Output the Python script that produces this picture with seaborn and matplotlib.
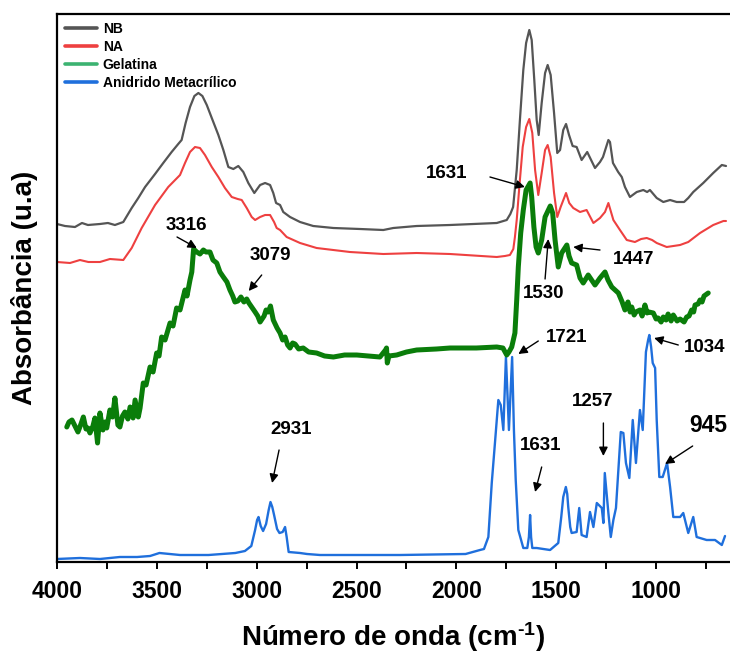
import matplotlib
matplotlib.use("Agg")
import matplotlib.pyplot as plt
from matplotlib.lines import Line2D
from matplotlib.ticker import MultipleLocator
import seaborn as sns

# ---- FTIR spectra (wavenumber in cm-1, absorbance in arbitrary units, stacked) ----
nb_wn = [4000, 3960, 3910, 3875, 3845, 3785, 3745, 3710, 3668, 3626, 3593, 3559, 3509, 3468,
         3426, 3393, 3376, 3356, 3334, 3312, 3292, 3272, 3250, 3225, 3192, 3167, 3142, 3117,
         3092, 3067, 3042, 3012, 2983, 2958, 2933, 2917, 2903, 2883, 2867, 2833, 2783, 2717,
         2616, 2483, 2366, 2316, 2199, 2032, 1798, 1748, 1730, 1716, 1698, 1682, 1665, 1651,
         1635, 1623, 1610, 1598, 1588, 1573, 1556, 1543, 1528, 1511, 1495, 1481, 1465, 1451,
         1436, 1418, 1398, 1373, 1345, 1306, 1281, 1266, 1239, 1231, 1216, 1190, 1172, 1156,
         1131, 1097, 1064, 1045, 1031, 997, 964, 930, 897, 860, 839, 814, 764, 714, 671, 650]
nb_abs = [3.38, 3.36, 3.35, 3.39, 3.37, 3.38, 3.39, 3.37, 3.40, 3.54, 3.64, 3.75, 3.88, 3.99,
          4.10, 4.18, 4.22, 4.39, 4.55, 4.66, 4.69, 4.66, 4.57, 4.44, 4.27, 4.12, 3.95, 3.93,
          3.96, 3.90, 3.79, 3.69, 3.77, 3.79, 3.77, 3.69, 3.59, 3.57, 3.50, 3.45, 3.40, 3.36,
          3.34, 3.33, 3.32, 3.34, 3.36, 3.37, 3.39, 3.42, 3.48, 3.55, 3.92, 4.42, 4.92, 5.19,
          5.32, 5.22, 4.82, 4.42, 4.27, 4.59, 4.89, 4.97, 4.87, 4.49, 4.09, 4.12, 4.32, 4.38,
          4.27, 4.16, 4.15, 4.02, 4.10, 3.94, 4.00, 4.05, 4.22, 4.20, 3.99, 3.90, 3.85, 3.75,
          3.65, 3.70, 3.72, 3.70, 3.72, 3.64, 3.60, 3.62, 3.60, 3.60, 3.64, 3.70, 3.79, 3.89,
          3.97, 3.96]

na_wn = [4000, 3935, 3885, 3843, 3785, 3735, 3668, 3626, 3576, 3509, 3443, 3384, 3359, 3334,
         3309, 3284, 3259, 3225, 3192, 3159, 3125, 3095, 3075, 3050, 3025, 3008, 2983, 2958,
         2933, 2913, 2900, 2883, 2850, 2783, 2700, 2533, 2366, 2199, 2032, 1798, 1757, 1732,
         1715, 1707, 1698, 1685, 1668, 1651, 1635, 1620, 1606, 1590, 1573, 1556, 1543, 1528,
         1511, 1495, 1478, 1451, 1435, 1415, 1381, 1348, 1314, 1281, 1256, 1239, 1214, 1181,
         1147, 1106, 1075, 1047, 1020, 997, 947, 880, 839, 780, 714, 663, 650]
na_abs = [3.00, 2.99, 3.02, 3.00, 3.00, 3.03, 3.02, 3.14, 3.34, 3.57, 3.75, 3.87, 3.99, 4.10,
          4.15, 4.14, 4.07, 3.95, 3.85, 3.74, 3.65, 3.63, 3.62, 3.54, 3.45, 3.42, 3.45, 3.47,
          3.47, 3.40, 3.34, 3.32, 3.25, 3.19, 3.14, 3.10, 3.08, 3.09, 3.08, 3.05, 3.06, 3.07,
          3.13, 3.25, 3.42, 3.75, 4.15, 4.35, 4.43, 4.29, 3.92, 3.67, 3.89, 4.12, 4.17, 4.05,
          3.69, 3.45, 3.55, 3.69, 3.59, 3.54, 3.50, 3.52, 3.39, 3.44, 3.50, 3.59, 3.42, 3.32,
          3.22, 3.20, 3.23, 3.24, 3.22, 3.19, 3.15, 3.17, 3.20, 3.29, 3.37, 3.41, 3.41]

gel_wn = [3951, 3940, 3925, 3910, 3895, 3880, 3868, 3855, 3845, 3835, 3820, 3810, 3797, 3785,
          3770, 3760, 3751, 3735, 3722, 3710, 3695, 3685, 3672, 3660, 3645, 3634, 3619, 3609,
          3593, 3584, 3568, 3554, 3534, 3519, 3501, 3489, 3476, 3459, 3434, 3419, 3401, 3384,
          3359, 3349, 3334, 3325, 3316, 3300, 3284, 3267, 3254, 3234, 3219, 3200, 3184, 3167,
          3149, 3134, 3120, 3109, 3094, 3079, 3064, 3050, 3039, 3025, 3008, 2995, 2983, 2963,
          2953, 2942, 2931, 2917, 2898, 2883, 2870, 2858, 2845, 2833, 2820, 2808, 2790, 2767,
          2740, 2700, 2660, 2616, 2560, 2499, 2440, 2383, 2355, 2350, 2346, 2338, 2299, 2250,
          2199, 2100, 2032, 1900, 1798, 1767, 1748, 1737, 1723, 1707, 1698, 1690, 1678, 1665,
          1651, 1631, 1623, 1612, 1601, 1590, 1573, 1556, 1530, 1518, 1506, 1490, 1473, 1447,
          1436, 1423, 1398, 1381, 1365, 1340, 1306, 1281, 1256, 1241, 1222, 1189, 1170, 1156,
          1141, 1130, 1122, 1110, 1101, 1081, 1070, 1056, 1045, 1036, 1014, 1000, 990, 975,
          964, 950, 940, 925, 914, 895, 880, 860, 847, 835, 822, 812, 805, 790, 780, 770,
          760, 739]
gel_abs = [1.35, 1.40, 1.42, 1.36, 1.30, 1.38, 1.45, 1.33, 1.34, 1.29, 1.36, 1.44, 1.19, 1.49,
           1.32, 1.40, 1.34, 1.52, 1.45, 1.64, 1.37, 1.35, 1.46, 1.50, 1.43, 1.55, 1.44, 1.62,
           1.45, 1.54, 1.79, 1.77, 1.95, 1.90, 2.09, 2.06, 2.25, 2.22, 2.39, 2.36, 2.54, 2.52,
           2.72, 2.66, 2.82, 2.90, 3.13, 3.10, 3.08, 3.12, 3.10, 3.10, 3.02, 2.99, 2.90, 2.85,
           2.80, 2.72, 2.66, 2.60, 2.61, 2.65, 2.60, 2.63, 2.59, 2.55, 2.50, 2.46, 2.40, 2.46,
           2.52, 2.50, 2.56, 2.42, 2.34, 2.29, 2.22, 2.25, 2.17, 2.14, 2.19, 2.18, 2.13, 2.14,
           2.10, 2.09, 2.06, 2.05, 2.07, 2.07, 2.06, 2.05, 2.12, 2.14, 1.99, 2.06, 2.07, 2.10,
           2.12, 2.13, 2.14, 2.14, 2.15, 2.14, 2.07, 2.10, 2.15, 2.29, 2.62, 2.95, 3.29, 3.52,
           3.72, 3.79, 3.65, 3.35, 3.15, 3.09, 3.22, 3.45, 3.56, 3.49, 3.22, 2.95, 3.09, 3.17,
           3.06, 2.99, 2.97, 2.84, 2.79, 2.87, 2.77, 2.84, 2.90, 2.82, 2.75, 2.69, 2.60, 2.52,
           2.60, 2.50, 2.55, 2.47, 2.50, 2.52, 2.46, 2.57, 2.49, 2.50, 2.49, 2.43, 2.44, 2.40,
           2.45, 2.42, 2.48, 2.41, 2.47, 2.41, 2.43, 2.40, 2.45, 2.46, 2.52, 2.50, 2.57, 2.58,
           2.62, 2.60, 2.66, 2.69]

ma_wn = [4000, 3885, 3785, 3685, 3599, 3534, 3487, 3384, 3241, 3107, 3059, 3027, 3008, 2998,
         2991, 2980, 2968, 2953, 2940, 2931, 2922, 2913, 2898, 2886, 2870, 2858, 2850, 2840,
         2783, 2748, 2683, 2282, 1954, 1882, 1862, 1840, 1823, 1807, 1790, 1778, 1765,
         1752, 1737, 1721, 1712, 1703, 1690, 1665, 1645, 1637, 1631, 1626, 1620, 1598, 1531,
         1490, 1475, 1465, 1452, 1445, 1440, 1430, 1423, 1398, 1385, 1373, 1348, 1331, 1314,
         1297, 1272, 1264, 1257, 1239, 1227, 1214, 1201, 1189, 1177, 1164, 1151, 1134, 1117,
         1101, 1081, 1067, 1051, 1040, 1034, 1025, 1017, 1005, 997, 984, 967, 945, 930,
         914, 880, 864, 839, 814, 797, 747, 705, 671, 655]
ma_abs = [0.03, 0.04, 0.03, 0.05, 0.05, 0.06, 0.09, 0.07, 0.07, 0.09, 0.11, 0.16, 0.32, 0.42,
          0.45, 0.36, 0.31, 0.38, 0.52, 0.60, 0.55, 0.47, 0.33, 0.29, 0.30, 0.35, 0.25, 0.10,
          0.09, 0.08, 0.07, 0.07, 0.08, 0.12, 0.13, 0.25, 0.79, 1.19, 1.62, 1.57, 1.32,
          2.05, 1.32, 2.05, 1.32, 0.82, 0.32, 0.14, 0.14, 0.25, 0.47, 0.25, 0.14, 0.14, 0.12,
          0.19, 0.45, 0.65, 0.75, 0.68, 0.55, 0.35, 0.29, 0.30, 0.54, 0.27, 0.25, 0.50, 0.35,
          0.59, 0.54, 0.39, 0.89, 0.49, 0.25, 0.42, 0.54, 0.92, 1.30, 1.29, 0.99, 0.84, 1.42,
          0.99, 1.52, 1.32, 2.10, 2.22, 2.27, 2.15, 1.99, 1.94, 1.42, 0.85, 0.85, 0.99, 0.75,
          0.45, 0.45, 0.49, 0.29, 0.45, 0.25, 0.22, 0.22, 0.17, 0.26]

series_names = ["NB", "NA", "Gelatina", "Anidrido Metacrílico"]
x_ticks = [4000, 3500, 3000, 2500, 2000, 1500, 1000]

# band labels: text, label position, arrow tail, arrow tip (wavenumber, a.u.)
band_labels = ["3316", "3079", "2931", "1631", "1530", "1447", "1721", "1631", "1257", "945", "1034"]
label_xy = [(3352, 3.37), (2930, 3.07), (2828, 1.33), (2049, 3.89), (1565, 2.68), (1114, 3.03),
            (1448, 2.25), (1578, 1.17), (1318, 1.61), (739, 1.37), (755, 2.15)]
arrow_tail = [(3399, 3.25), (2975, 2.87), (2888, 1.12), (1832, 3.85), (1556, 2.83), (1281, 3.12),
              (1590, 2.21), (1573, 0.95), (1264, 1.39), (817, 1.16), (889, 2.17)]
arrow_tip = [(3300, 3.14), (3040, 2.71), (2923, 0.79), (1657, 3.75), (1540, 3.23), (1415, 3.15),
             (1690, 2.08), (1606, 0.70), (1264, 1.06), (955, 0.98), (1010, 2.24)]
label_size = [13.5, 13.5, 13.5, 13.5, 13.5, 13.5, 13.5, 13.5, 13.5, 16.5, 13.5]

# ---- style ----
sns.set_style("white")
plt.rcParams["font.family"] = ["Liberation Sans", "DejaVu Sans"]
plt.rcParams["font.weight"] = "bold"
plt.rcParams["mathtext.fontset"] = "custom"
plt.rcParams["mathtext.rm"] = "Liberation Sans:bold"
plt.rcParams["mathtext.bf"] = "Liberation Sans:bold"
plt.rcParams["mathtext.default"] = "bf"
for key in ["text.color", "axes.labelcolor", "xtick.color", "ytick.color"]:
    plt.rcParams[key] = "black"

colors = {"NB": "#555555", "NA": "#ee4040", "Gelatina": "#0a7d0a", "Anidrido Metacrílico": "#1f6fdc"}
legend_colors = ["#555555", "#ee4040", "#3cb371", "#1f6fdc"]

fig = plt.figure(figsize=(7.30, 6.53), dpi=100)
ax = fig.add_axes([57 / 730, 91 / 653, 673 / 730, 548 / 653])

line_kw = dict(sort=False, estimator=None, ax=ax, solid_joinstyle="round", solid_capstyle="round")
sns.lineplot(x=ma_wn, y=ma_abs, color=colors["Anidrido Metacrílico"], linewidth=1.7, **line_kw)
sns.lineplot(x=nb_wn, y=nb_abs, color=colors["NB"], linewidth=1.6, **line_kw)
sns.lineplot(x=na_wn, y=na_abs, color=colors["NA"], linewidth=1.5, **line_kw)
sns.lineplot(x=gel_wn, y=gel_abs, color=colors["Gelatina"], linewidth=3.6, **line_kw)

ax.set_xlim(4000, 630)
ax.set_ylim(0, 5.48)
ax.xaxis.set_minor_locator(MultipleLocator(250))
ax.set_xticks(x_ticks)
ax.set_xticklabels([str(t) for t in x_ticks], fontsize=16.5, fontweight="bold")
ax.set_yticks([])
ax.tick_params(axis="x", which="both", direction="out", length=5, width=1.4, color="black",
               bottom=True, top=False, pad=8)
for side in ["left", "bottom", "top"]:
    ax.spines[side].set_color("black")
    ax.spines[side].set_linewidth(1.6)
ax.spines["right"].set_visible(False)

ax.set_xlabel("Número de onda (cm$^{\u20101}$)", fontsize=20, fontweight="bold", labelpad=12)
ax.set_ylabel("Absorbância (u.a)", fontsize=20, fontweight="bold", labelpad=14)

for txt, pos, tail, tip, fs in zip(band_labels, label_xy, arrow_tail, arrow_tip, label_size):
    ax.text(pos[0], pos[1], txt, fontsize=fs, fontweight="bold", ha="center", va="center")
    ax.annotate("", xy=tip, xytext=tail,
                arrowprops=dict(arrowstyle="-|>", color="black", lw=1.0, mutation_scale=13,
                                shrinkA=0, shrinkB=0))

handles = [Line2D([], [], color=c, lw=2.6) for c in legend_colors]
ax.legend(handles, series_names, loc="upper left", bbox_to_anchor=(0.0, 1.0), frameon=False,
          prop={"weight": "bold", "size": 10}, handlelength=2.3, handletextpad=0.4,
          labelspacing=0.28, borderaxespad=0.3, borderpad=0.3)

fig.savefig("out.png", dpi=100)
